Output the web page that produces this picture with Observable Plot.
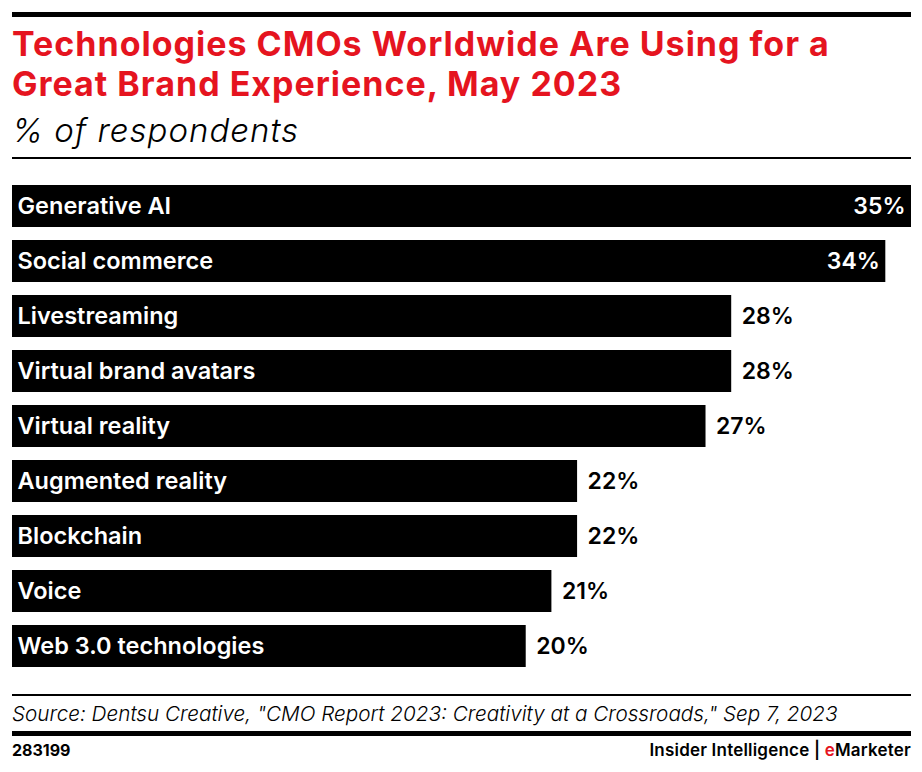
<!DOCTYPE html>
<html>
<head>
<meta charset="utf-8">
<script src="https://cdn.jsdelivr.net/npm/d3@7"></script>
<script src="https://cdn.jsdelivr.net/npm/@observablehq/plot@0.6"></script>
<style>
  html, body { margin: 0; padding: 0; background: #fff; }
  body { width: 922px; height: 772px; position: relative; font-family: Inter, "Noto Sans", sans-serif; overflow: hidden; }
  .abs { position: absolute; white-space: nowrap; }
  .rule { position: absolute; left: 12px; width: 899px; background: #000; }
  #title { left: 12px; top: 24px; color: #e5141f; font-weight: 700; font-size: 34px; line-height: 40px; letter-spacing: 1px; }
  #subtitle { left: 12px; top: 111px; font-style: italic; font-weight: 300; font-size: 33px; line-height: 38px; letter-spacing: 1px; color: #000; }
  #source { left: 12px; top: 700px; font-style: italic; font-weight: 300; font-size: 20.7px; line-height: 27px; color: #000; }
  #id { left: 12px; top: 740px; font-weight: 700; font-size: 16px; line-height: 20px; }
  #brand { right: 11px; top: 740px; font-weight: 600; font-size: 17px; line-height: 20px; letter-spacing: 0.2px; }
  #chart { left: 0; top: 170px; }
  #chart svg { display: block; }
</style>
</head>
<body>
<div class="rule" style="top:12px;height:5px"></div>
<div id="title" class="abs">Technologies CMOs Worldwide Are Using for a<br>Great Brand Experience, May 2023</div>
<div id="subtitle" class="abs">% of respondents</div>
<div class="rule" style="top:157px;height:2px"></div>
<div id="chart" class="abs"></div>
<div class="rule" style="top:694px;height:2px"></div>
<div id="source" class="abs">Source: Dentsu Creative, "CMO Report 2023: Creativity at a Crossroads," Sep 7, 2023</div>
<div class="rule" style="top:731px;height:5px"></div>
<div id="id" class="abs">283199</div>
<div id="brand" class="abs">Insider Intelligence | <span style="color:#e5141f">e</span>Marketer</div>
<script>
const categories = ["Generative AI", "Social commerce", "Livestreaming", "Virtual brand avatars", "Virtual reality", "Augmented reality", "Blockchain", "Voice", "Web 3.0 technologies"];
const values = [35, 34, 28, 28, 27, 22, 22, 21, 20];
const insideThreshold = 30;

const data = categories.map((c, i) => ({category: c, value: values[i]}));
const inside = data.filter(d => d.value >= insideThreshold);
const outside = data.filter(d => d.value < insideThreshold);

const chart = Plot.plot({
  width: 922,
  height: 510,
  marginLeft: 12,
  marginRight: 11,
  marginTop: 13,
  marginBottom: 10,
  x: {domain: [0, 35], axis: null},
  y: {domain: categories, axis: null, paddingInner: 0.235, paddingOuter: 0},
  style: {fontFamily: "Inter, 'Noto Sans', sans-serif"},
  marks: [
    Plot.barX(data, {x: "value", y: "category", fill: "#000"}),
    Plot.text(data, {x: 0, y: "category", text: "category", textAnchor: "start", dx: 5, fill: "#fff", fontSize: 23.5, fontWeight: 600, letterSpacing: "0.45px"}),
    Plot.text(inside, {x: "value", y: "category", text: d => d.value + "%", textAnchor: "end", dx: -6, fill: "#fff", fontSize: 23, fontWeight: 600}),
    Plot.text(outside, {x: "value", y: "category", text: d => d.value + "%", textAnchor: "start", dx: 10, fill: "#000", fontSize: 23, fontWeight: 600})
  ]
});
document.getElementById("chart").appendChild(chart);
</script>
</body>
</html>
